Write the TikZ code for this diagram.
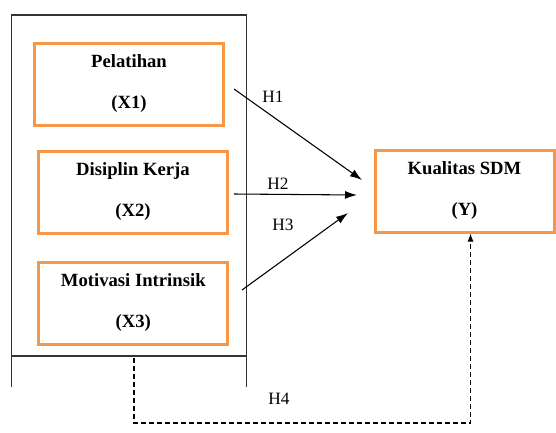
\documentclass[tikz,border=0pt]{standalone}
\usepackage{fontspec}
\setmainfont{Liberation Serif}
\usepackage{tikz}
\usetikzlibrary{arrows.meta, positioning, calc}

\definecolor{boxorange}{RGB}{247,150,70}

\begin{document}
\begin{tikzpicture}[
    x=0.75pt, y=-0.75pt,
    every node/.style={inner sep=0pt},
    varbox/.style={draw=boxorange, line width=2.25pt, minimum width=189*0.75pt,
                   minimum height=82*0.75pt, align=center,
                   font=\fontsize{14pt}{30.75pt}\selectfont\bfseries},
    frame/.style={draw=black!80, line width=1pt},
    arrow/.style={-{Latex[length=9pt,width=6pt]}, line width=0.8pt},
    hyp/.style={font=\fontsize{13pt}{15pt}\selectfont}
]
\useasboundingbox (0,0) rectangle (556,432);

% variables
\node[varbox] (x1) at (129,84) {Pelatihan\\(X1)};
\node[varbox] (x2) at (133,192) {Disiplin Kerja\\(X2)};
\node[varbox] (x3) at (133.3,303) {Motivasi Intrinsik\\(X3)};
\node[varbox, minimum width=179*0.75pt] (y) at (464.5,191) {Kualitas SDM\\(Y)};

% outer frame round X1--X3
\draw[frame] (11.7,387) -- (11.7,15) -- (246.7,15) -- (246.7,387);
\draw[frame] (11.7,356) -- (246.7,356);

% free ends of the arrows
\coordinate (h1s) at (234,89);
\coordinate (h1e) at (362,180);
\coordinate (h2s) at (234,194);
\coordinate (h2e) at (357,195);
\coordinate (h3s) at (242,290);
\coordinate (h3e) at (348,213);
\coordinate (h4s) at (134,358);
\coordinate (h4c) at (134,423);

\draw[arrow] (h1s) -- (h1e);
\draw[arrow] (h2s) -- (h2e);
\draw[arrow] (h3s) -- (h3e);
\draw[-{Latex[length=6pt,width=4.5pt]}, line width=0.8pt, dash pattern=on 3.5pt off 2.5pt]
    (h4s) -- (h4c) -| ($(y.south)+(6,0)$);

\node[hyp] (lh1) at (273,97) {H1};
\node[hyp] (lh2) at (278,184) {H2};
\node[hyp] (lh3) at (283,225) {H3};
\node[hyp] (lh4) at (279,399) {H4};
\end{tikzpicture}
\end{document}
